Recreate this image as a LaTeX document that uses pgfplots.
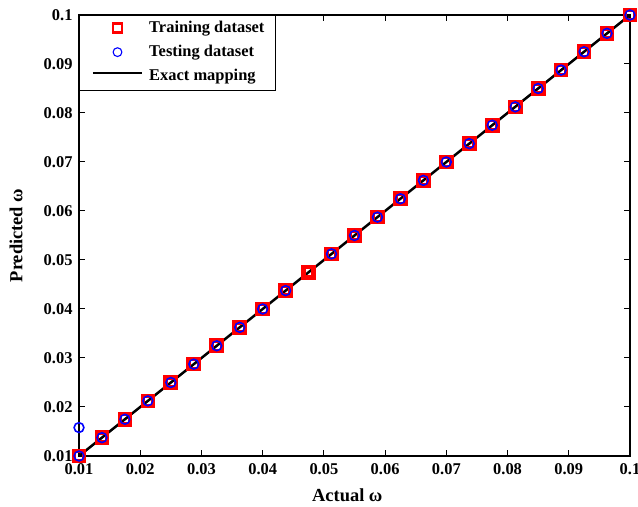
\documentclass[border=0pt]{standalone}
\usepackage{fontspec}
\setmainfont{Liberation Serif}
\usepackage{pgfplots}
\pgfplotsset{compat=1.18}
\definecolor{mred}{RGB}{255,0,0}
\definecolor{mblue}{RGB}{0,0,255}
\pgfplotstableread{
x y
0.01000 0.01000
0.01375 0.01375
0.01750 0.01750
0.02125 0.02125
0.02500 0.02500
0.02875 0.02875
0.03250 0.03250
0.03625 0.03625
0.04000 0.04000
0.04375 0.04375
0.04750 0.04750
0.05125 0.05125
0.05500 0.05500
0.05875 0.05875
0.06250 0.06250
0.06625 0.06625
0.07000 0.07000
0.07375 0.07375
0.07750 0.07750
0.08125 0.08125
0.08500 0.08500
0.08875 0.08875
0.09250 0.09250
0.09625 0.09625
0.10000 0.10000
}\train
\pgfplotstableread{
x y
0.01000 0.01580
0.01000 0.01000
0.01375 0.01375
0.01750 0.01750
0.02125 0.02125
0.02500 0.02500
0.02875 0.02875
0.03250 0.03250
0.03625 0.03625
0.04000 0.04000
0.04375 0.04375
0.05125 0.05125
0.05500 0.05500
0.05875 0.05875
0.06250 0.06250
0.06625 0.06625
0.07000 0.07000
0.07375 0.07375
0.07750 0.07750
0.08125 0.08125
0.08500 0.08500
0.08875 0.08875
0.09250 0.09250
0.09625 0.09625
0.10000 0.10000
}\test
\begin{document}
\begin{tikzpicture}
\begin{axis}[
  at={(0,0)}, anchor=south west,
  scale only axis, width=551bp, height=441bp,
  xmin=0.01, xmax=0.1, ymin=0.01, ymax=0.1,
  xtick={0.01,0.02,0.03,0.04,0.05,0.06,0.07,0.08,0.09,0.1},
  ytick={0.01,0.02,0.03,0.04,0.05,0.06,0.07,0.08,0.09,0.1},
  scaled ticks=false,
  /pgf/number format/fixed,
  /pgf/number format/precision=2,
  /pgf/number format/assume math mode=true,
  tick label style={font=\fontsize{16.5}{18}\selectfont\bfseries},
  xticklabel style={yshift=-4bp},
  yticklabel style={xshift=-3bp},
  tick align=inside, major tick length=6bp,
  axis line style={line width=1.5bp},
  every tick/.style={black, line width=1bp},
  xlabel={Actual ω}, ylabel={Predicted ω},
  every axis x label/.style={at={(axis description cs:0.487,-0.0884)}, anchor=center},
  every axis y label/.style={at={(axis description cs:-0.1143,0.5)}, rotate=90, anchor=center},
  label style={font=\fontsize{18.5}{20}\selectfont\bfseries},
  clip=false,
  legend style={at={(0,1)}, anchor=north west, draw=black, line width=1.5bp,
    font=\fontsize{16.5}{20}\selectfont\bfseries,
    inner xsep=11bp, inner ysep=6bp, row sep=9.2bp, column sep=5bp,
    nodes={inner sep=0pt, text height=11.2bp, text depth=3.6bp}},
  legend cell align=left,
]
\addplot[only marks, mark=square, mark size=5.1bp, line width=4.5bp, color=mred,
  legend image code/.code={\path (0bp,0bp) (49bp,0bp);
    \draw[mred, line width=2.6bp] (20bp,-3.5bp) rectangle (29bp,5.5bp);}]
  table[x=x,y=y] {\train};
\addlegendentry{Training dataset}
\addplot[only marks, mark=o, mark size=4.9bp, line width=1.6bp, color=mblue,
  legend image code/.code={\path (0bp,0bp) (49bp,0bp);
    \draw[mblue, line width=1.1bp] (24.5bp,1bp) circle (4.4bp);}]
  table[x=x,y=y] {\test};
\addlegendentry{Testing dataset}
\addplot[black, line width=2.5bp, no marks,
  legend image code/.code={\draw[black, line width=2.2bp] (0bp,4bp) -- (49bp,4bp);}]
  coordinates {(0.01,0.01) (0.1,0.1)};
\addlegendentry{Exact mapping}
\end{axis}
\pgfresetboundingbox
\path (-79bp,-51bp) rectangle (559bp,456bp);
\end{tikzpicture}
\end{document}
